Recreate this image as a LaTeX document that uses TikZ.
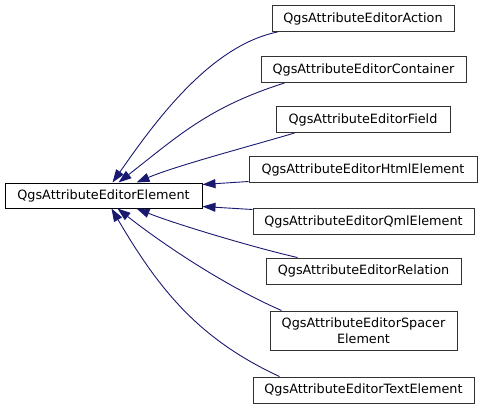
\documentclass[tikz,border=0pt]{standalone}
\usepackage{fontspec}
\setmainfont{DejaVu Sans}
\usetikzlibrary{arrows.meta}
\definecolor{edgeblue}{RGB}{25,25,112}
\definecolor{boxgray}{RGB}{50,50,50}
\tikzset{
  cls/.style={draw=boxgray, line width=1pt, fill=white, inner sep=0pt, minimum height=26pt,
    font=\fontsize{12.8}{15.5}\selectfont, align=center},
  base/.style={cls, draw=black},
  inh/.style={draw=edgeblue, line width=0.9pt, {Triangle[length=13pt,width=9pt,fill=edgeblue]}-}
}
\begin{document}
\begin{tikzpicture}[x=1pt,y=-1pt]
\useasboundingbox (0,0) rectangle (483,408);
\node[base, minimum width=197pt, minimum height=25pt] (main) at (103.5,195.5) {QgsAttributeEditorElement};
\node[cls, minimum width=182pt] (act) at (363,18.5) {QgsAttributeEditorAction};
\node[cls, minimum width=205pt] (con) at (363.5,69.5) {QgsAttributeEditorContainer};
\node[cls, minimum width=174pt] (fld) at (363,119.5) {QgsAttributeEditorField};
\node[cls, minimum width=228pt] (htm) at (363,169.5) {QgsAttributeEditorHtmlElement};
\node[cls, minimum width=221pt] (qml) at (363.5,221.5) {QgsAttributeEditorQmlElement};
\node[cls, minimum width=195pt] (rel) at (363.5,271) {QgsAttributeEditorRelation};
\node[cls, minimum width=187pt, minimum height=39pt] (spc) at (363.5,330.5) {QgsAttributeEditorSpacer\\Element};
\node[cls, minimum width=221pt] (txt) at (363.5,390) {QgsAttributeEditorTextElement};

\draw[inh] ([xshift=108pt]main.north west) .. controls +(40,-57) and +(-69,14) .. ([xshift=6pt]act.south west);
\draw[inh] ([xshift=114pt]main.north west) .. controls +(59,-46) and +(-76,24) .. ([xshift=24pt]con.south west);
\draw[inh] ([xshift=132pt]main.north west) .. controls +(40,-17) and +(-40,12) .. ([xshift=19pt]fld.south west);
\draw[inh] ([yshift=-2pt]main.north east) -- ([yshift=1.5pt]htm.south west);
\draw[inh] ([yshift=2pt]main.south east) -- ([yshift=-1.5pt]qml.north west);
\draw[inh] ([xshift=132pt]main.south west) .. controls +(40,16) and +(-40,-9) .. ([xshift=32pt]rel.north west);
\draw[inh] ([xshift=113pt]main.south west) .. controls +(47,37) and +(-55,-24) .. ([xshift=12pt]spc.north west);
\draw[inh] ([xshift=107pt]main.south west) .. controls +(48,82) and +(-80,-37) .. ([xshift=27pt]txt.north west);
\end{tikzpicture}
\end{document}
